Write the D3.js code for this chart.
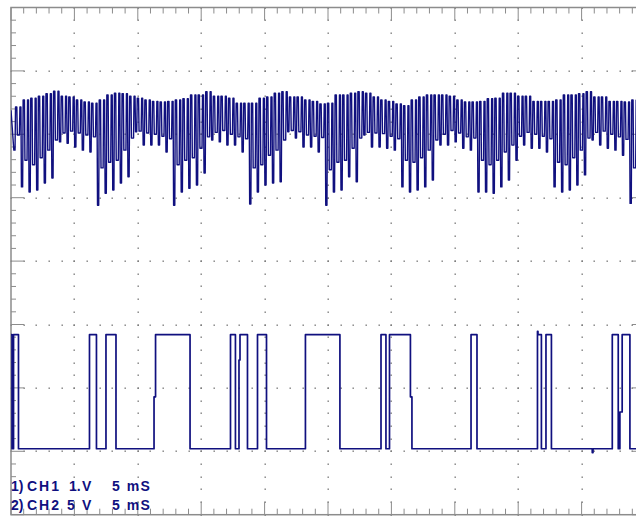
<!DOCTYPE html>
<html><head><meta charset="utf-8">
<script src="https://cdn.jsdelivr.net/npm/d3@7"></script>
<style>html,body{margin:0;padding:0;background:#fff;overflow:hidden}</style>
</head><body>
<svg id="scope" width="636" height="516"></svg>
<script>
// ---- CH1 ripple record, one entry per ripple cycle (volts) ----
const ch1Trough = [1.75,
  1.17,1.09,1.12,1.23,1.31,1.88,1.86,1.80,1.75,1.72,
  0.88,1.07,1.12,1.23,1.33,2.04,1.83,1.83,1.83,1.72,
  0.88,1.09,1.15,1.20,1.39,1.91,1.88,1.83,1.83,1.72,
  0.90,1.09,1.20,1.23,1.25,2.04,1.94,1.80,1.80,1.72,
  0.88,1.09,1.12,1.33,1.25,1.99,1.80,1.80,1.78,1.75,
  1.17,1.09,1.12,1.17,1.28,1.83,1.83,1.88,1.78,1.75,
  1.09,1.09,1.07,1.17,1.28,1.59,1.83,1.78,1.78,1.72,
  1.17,1.09,1.12,1.20,1.36,1.91,1.83,1.78,1.75,1.67,
  0.91];
const ch1Peak = [2.43,
  2.54,2.57,2.60,2.64,2.68,2.60,2.59,2.54,2.51,2.49,
  2.54,2.62,2.65,2.64,2.60,2.57,2.54,2.52,2.51,2.52,
  2.54,2.56,2.62,2.62,2.67,2.60,2.60,2.57,2.49,2.49,
  2.49,2.57,2.59,2.65,2.67,2.59,2.59,2.54,2.52,2.48,
  2.49,2.62,2.62,2.65,2.67,2.65,2.59,2.54,2.52,2.48,
  2.45,2.54,2.59,2.62,2.62,2.62,2.60,2.54,2.51,2.51,
  2.52,2.56,2.57,2.65,2.65,2.60,2.60,2.52,2.52,2.52,
  2.54,2.62,2.62,2.64,2.67,2.59,2.59,2.52,2.52,2.51,
  2.54];
const ch1Dip = [1.99,
  1.59,1.52,1.63,1.75,1.91,2.02,2.05,2.02,1.99,1.96,
  1.47,1.56,1.59,1.75,1.94,2.05,2.02,2.00,1.97,1.93,
  1.52,1.59,1.63,1.78,1.96,2.03,2.06,2.00,1.96,1.93,
  1.47,1.52,1.67,1.75,1.91,2.06,2.04,1.99,1.97,1.95,
  1.44,1.56,1.59,1.78,1.94,2.03,2.02,2.01,1.97,1.93,
  1.59,1.56,1.63,1.75,1.91,2.00,2.06,2.02,1.96,1.94,
  1.59,1.52,1.59,1.72,1.83,1.97,2.03,2.00,1.97,1.93,
  1.56,1.52,1.63,1.75,1.94,2.03,2.05,2.00,1.96,1.92,
  1.47];
const ch1FirstMs = 0.27;   // time of first trough
const ch1CycleMs = 0.6;    // ripple period
const ch1StartV = 2.38;    // level at the left edge

// ---- CH2 logic record: level (V) held from each time (ms) ----
const ch2Ms = [0, 0.08, 0.20, 0.59, 6.19, 6.74, 7.49, 8.28, 11.28, 11.40, 14.12,
  17.31, 17.70, 17.98, 18.06, 18.65, 19.44, 20.15, 23.22, 25.94, 29.18, 29.57,
  29.85, 31.50, 31.62, 36.28, 36.75, 41.52, 41.56, 41.83, 42.19, 42.62, 45.84,
  45.90, 47.42, 47.89, 48.02, 48.20, 48.81, 50];
const ch2V = [9, 0, 9, 0, 9, 0, 9, 0, 4.1, 9, 0,
  9, 0, 7, 9, 0, 9, 0, 9, 0, 9, 0,
  9, 4.1, 0, 9, 0, 9.25, 9, 0, 9, 0, -0.3,
  0, 9, 0, 2.9, 9, 0, 0];

// ---- channel settings ----
const chNames = ["1) CH1", "2) CH2"];
const chVoltsText = ["1.", "5"];
const chVoltsPerDiv = [1, 5];
const chOffsetDiv = [0, -2.96];
const timeText = "5 mS";

// ---- screen geometry ----
const DIV = 63.4, LEFT = 11, TOP = 7.5;
const NX = 10, NY = 8;
const x = d3.scaleLinear().domain([0, 50]).range([LEFT, LEFT + NX * DIV]);
const yDiv = d3.scaleLinear().domain([-4, 4]).range([TOP + NY * DIV, TOP]);
const R = LEFT + NX * DIV, B = TOP + NY * DIV;
const msPerPx = 50 / (NX * DIV);

const svg = d3.select("#scope");
svg.append("rect").attr("width", 636).attr("height", 516).attr("fill", "#fff");

const grid = svg.append("g");
const gridCol = "#8c8c8c";

// dotted graticule along every major division line
const xMajors = d3.range(1, NX).map(i => i * 5);
const yMajors = d3.range(-3, 4);
const xMinor = d3.range(0, 50.001, 1);
const yMinor = d3.range(-4, 4.001, 0.2).map(v => +v.toFixed(1));
const dots = [];
xMajors.forEach(t => yMinor.forEach(v => dots.push([x(t), yDiv(v)])));
yMajors.forEach(v => xMinor.forEach(t => dots.push([x(t), yDiv(v)])));
grid.selectAll("rect.dot").data(dots).join("rect").attr("class", "dot")
  .attr("x", d => Math.round(d[0]) - 0.5).attr("y", d => Math.round(d[1]) - 0.5)
  .attr("width", 1.4).attr("height", 1.4).attr("fill", "#7a7a7a");

// frame
grid.append("rect").attr("x", LEFT).attr("y", TOP).attr("width", R - LEFT).attr("height", B - TOP)
  .attr("fill", "none").attr("stroke", gridCol).attr("stroke-width", 1.5);

// border ticks
const isMajorT = t => Math.abs(t % 5) < 1e-6;
const isMajorV = v => Math.abs(v - Math.round(v)) < 1e-6;
const tk = grid.append("g").attr("stroke", gridCol).attr("stroke-width", 1);
tk.selectAll("line.t").data(xMinor).join("line").attr("class", "t")
  .attr("x1", d => x(d)).attr("x2", d => x(d)).attr("y1", TOP)
  .attr("y2", d => TOP + (isMajorT(d) ? 13 : 6));
tk.selectAll("line.b").data(xMinor).join("line").attr("class", "b")
  .attr("x1", d => x(d)).attr("x2", d => x(d)).attr("y1", B)
  .attr("y2", d => B - (isMajorT(d) ? 13 : 6));
tk.selectAll("line.l").data(yMinor).join("line").attr("class", "l")
  .attr("y1", d => yDiv(d)).attr("y2", d => yDiv(d)).attr("x1", LEFT)
  .attr("x2", d => LEFT + (isMajorV(d) ? 13 : 5));
tk.selectAll("line.r").data(yMinor).join("line").attr("class", "r")
  .attr("y1", d => yDiv(d)).attr("y2", d => yDiv(d)).attr("x1", R)
  .attr("x2", d => R - (isMajorV(d) ? 13 : 5));

// traces
svg.append("clipPath").attr("id", "screen").append("rect")
  .attr("x", LEFT).attr("y", TOP).attr("width", R - LEFT).attr("height", B - TOP);
const traceCol = "#10107f";
const yCh = (ch, v) => yDiv(v / chVoltsPerDiv[ch] + chOffsetDiv[ch]);

// each ripple cycle: narrow trough, peak, wider mid dip, peak (offsets in px)
const px = p => p * msPerPx;
const ch1Pts = [[0, ch1StartV]];
ch1Trough.forEach((tr, k) => {
  const t = ch1FirstMs + k * ch1CycleMs, pk = ch1Peak[k], dp = ch1Dip[k];
  ch1Pts.push([t - px(0.6), tr], [t + px(0.6), tr], [t + px(1.1), pk], [t + px(2.4), pk],
    [t + px(2.9), dp], [t + px(5.0), dp], [t + px(5.5), pk], [t + px(6.5), pk]);
});
const traces = svg.append("g").attr("clip-path", "url(#screen)")
  .attr("fill", "none").attr("stroke", traceCol).attr("stroke-linejoin", "round");
traces.append("path")
  .attr("d", d3.line().x(d => x(d[0])).y(d => yCh(0, d[1]))(ch1Pts))
  .attr("stroke-width", 1.4);
traces.append("path")
  .attr("d", d3.line().curve(d3.curveStepAfter).x((d, i) => x(ch2Ms[i])).y((d, i) => yCh(1, ch2V[i]))(ch2Ms))
  .attr("stroke-width", 1.7);

// channel legend
const legend = svg.append("g").attr("fill", traceCol)
  .attr("font-family", "'Liberation Sans', Arial, sans-serif").attr("font-weight", "bold")
  .attr("font-size", 14);
chNames.forEach((name, i) => {
  const yy = 491 + i * 19;
  const [num, ch] = name.split(" ");
  legend.append("text").attr("x", 11).attr("y", yy).text(num);
  legend.append("text").attr("x", 27).attr("y", yy).attr("letter-spacing", 2).text(ch);
  legend.append("text").attr("x", i === 0 ? 69 : 67).attr("y", yy).text(chVoltsText[i]);
  legend.append("text").attr("x", 82).attr("y", yy).text("V");
  legend.append("text").attr("x", 112).attr("y", yy).attr("letter-spacing", 1.5).text(timeText);
});
</script>
</body></html>
